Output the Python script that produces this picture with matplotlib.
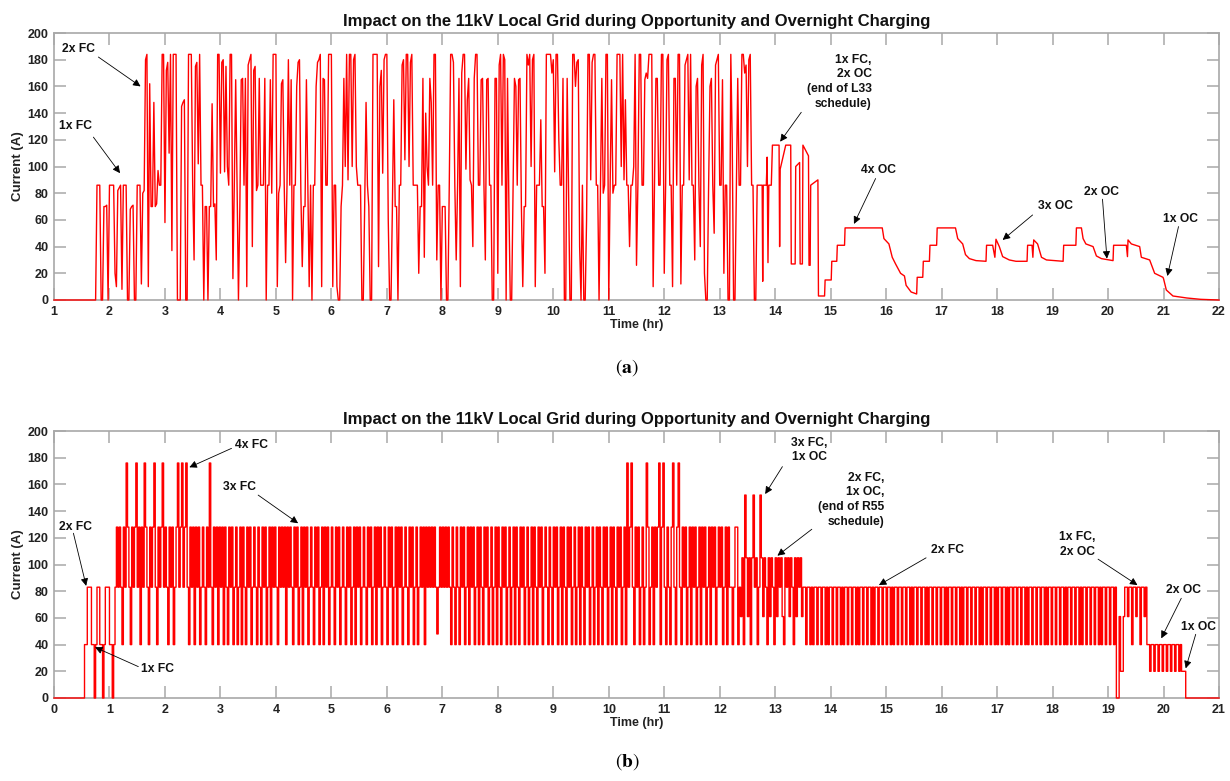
import matplotlib
matplotlib.use("Agg")
import matplotlib.pyplot as plt

plt.rcParams['font.family'] = ['Liberation Sans', 'DejaVu Sans']
plt.rcParams['mathtext.fontset'] = 'stix'

TITLE = "Impact on the 11kV Local Grid during Opportunity and Overnight Charging"
STEP = 0.025  # sampling interval (hr) of the read-off rows

# ---------------- Panel (a): L33 schedule, current (A) ----------------
top_start = [(1.0, 0)]
top_row_starts = [1.75, 2.75, 3.75, 4.75, 5.75, 6.75, 7.75, 8.75, 9.75, 10.75, 11.75, 12.75]
top_r0 = [0,86,86,86,0,0,70,70,71,0, 86,86,86,86,20,10,82,84,86,8, 86,86,86,0,0,68,70,71,0,0, 86,86,86,12,80,82,180,184,10,162]
top_r1 = [70,70,148,70,72,97,86,86,184,184, 58,172,178,110,184,37,184,184,184,0, 0,0,145,148,150,0,0,184,184,184, 86,30,175,178,102,184,86,86,0,70]
top_r2 = [70,0,70,70,147,70,72,30,184,184, 95,178,180,96,175,100,86,184,184,16, 86,165,86,0,70,165,166,86,166,10, 176,180,184,40,172,175,82,86,166,86]
top_r3 = [86,86,166,0,86,86,165,80,184,184, 184,10,80,86,162,165,86,28,86,180, 86,165,0,86,86,160,178,180,80,25, 70,70,165,86,10,86,0,86,86,160]
top_r4 = [178,180,184,10,166,165,86,86,184,184, 184,10,86,86,10,0,0,70,86,166, 100,184,90,184,184,100,180,184,100,86, 86,86,0,0,70,148,86,70,0,0]
top_r5 = [184,184,184,184,25,160,172,95,180,184, 184,60,0,0,70,150,70,70,0,86, 86,176,180,105,184,184,100,178,184,86, 86,86,86,20,70,70,166,32,140,100]
top_r6 = [86,166,148,86,184,184,30,86,86,0, 70,70,70,0,0,86,184,184,178,86, 30,86,166,10,170,184,184,98,150,166, 90,86,40,166,184,184,86,86,165,166]
top_r7 = [86,30,165,166,86,86,0,0,166,166, 20,176,184,86,184,180,0,166,70,0, 0,86,166,160,86,165,166,70,10,70, 70,184,176,184,100,180,184,10,86,86]
top_r8 = [86,135,70,70,20,184,184,184,184,170, 180,96,184,184,120,86,86,166,0,0, 166,86,0,0,184,184,160,178,180,40, 0,86,0,0,60,184,184,90,178,184]
top_r9 = [184,86,86,0,86,166,80,86,184,184, 0,86,165,80,86,86,184,184,184,100, 184,90,150,86,86,40,86,86,100,184, 26,86,184,184,86,86,165,170,166,184]
top_r10 = [184,184,10,86,166,166,86,86,184,184, 20,86,180,184,86,86,10,166,166,86, 184,184,12,86,86,176,180,184,90,184, 86,86,30,160,166,86,40,176,184,20]
top_r11 = [0,0,86,160,166,86,50,176,180,184, 86,86,165,20,86,86,0,0,184,120, 0,0,86,166,86,86,184,184,170,176, 100,180,184,86,86,0,0,86,86,86]
top_rows = [top_r0, top_r1, top_r2, top_r3, top_r4, top_r5, top_r6, top_r7,
            top_r8, top_r9, top_r10, top_r11]

tail_t = [13.75, 13.765, 13.775, 13.785, 13.84, 13.855, 13.87, 13.885, 13.93, 13.95,
          14.07, 14.08, 14.09, 14.19, 14.28, 14.29, 14.36, 14.37, 14.44, 14.45,
          14.49, 14.5, 14.6, 14.61, 14.63, 14.64, 14.77, 14.78, 14.89, 14.9,
          15.01, 15.02, 15.11, 15.12, 15.25, 15.26, 15.93, 15.96, 16.05, 16.11,
          16.17, 16.26, 16.33, 16.36, 16.45, 16.55, 16.56, 16.66, 16.67, 16.78,
          16.79, 16.91, 16.92, 17.25, 17.29, 17.38, 17.43, 17.5, 17.62, 17.8,
          17.81, 17.92, 17.96, 17.98, 18.04, 18.1, 18.22, 18.34, 18.54, 18.55,
          18.63, 18.645, 18.66, 18.73, 18.8, 18.89, 19.19, 19.2, 19.42, 19.43,
          19.52, 19.55, 19.6, 19.73, 19.79, 19.88, 20.09, 20.1, 20.33, 20.35,
          20.36, 20.42, 20.57, 20.6, 20.75, 20.84, 20.99, 21.0, 21.05, 21.17,
          21.42, 21.67, 22.0]
tail_v = [86, 86, 14, 86, 86, 107, 28, 86, 86, 116,
          116, 40, 98, 116, 116, 27, 27, 100, 103, 27,
          27, 116, 108, 26, 26, 86, 90, 3, 3, 15,
          15, 29, 29, 41, 41, 54, 54, 46, 42, 32,
          27, 20, 18, 11, 6, 4.5, 17, 17, 29, 29,
          41, 41, 54, 54, 46, 42, 34, 31, 29.5, 29,
          41, 41, 32, 45.5, 40, 32.5, 30, 29, 29, 41,
          41, 32, 45, 42, 32, 30, 29, 41, 41, 54,
          54, 46, 42, 40, 33, 31, 29.5, 41, 41, 32.5,
          45, 42, 40, 32, 30, 20, 17, 16, 7.5, 3,
          1.5, 0.5, 0]

# ---------------- Panel (b): R55 schedule, current (A) ----------------
bot_b0 = [0,0,0,0,0,0,0,0,0,0, 0,0,0,0,0,0,0,0,0,0, 0,0,40,40,83,83,83,40,40,0, 40,83,83,40,40,0,40,83,83,83]
bot_b1 = [40,40,0,40,83,128,83,128,83,40, 128,83,176,128,83,40,128,83,128,176, 83,128,40,128,83,176,128,83,40,128, 83,128,176,83,40,128,83,128,176,83]
bot_b2 = [128,83,40,128,83,128,40,83,128,176, 83,128,176,83,128,176,83,40,128,83, 128,40,128,83,128,40,83,128,83,40, 128,83,176,83,40,128,83,128,40,128]
bot_b3 = [83,128,40,128,83,40,128,83,128,40, 83,128,40,83,128,40,128,83,40,128, 83,128,40,83,128,83,40,128,83,40, 128,83,128,40,83,128,40,128,83,128]
bot_b4 = [83,40,128,83,128,83,128,40,128,83, 128,83,40,128,83,128,40,83,128,40, 128,83,128,40,83,128,83,40,128,83, 128,40,83,128,40,128,83,128,40,83]
bot_b5 = [128,83,40,128,83,128,40,83,128,83, 40,128,83,128,40,83,128,40,128,83, 128,40,83,128,83,40,128,83,128,40, 83,128,40,128,83,128,40,83,128,83]
bot_b6 = [40,128,83,128,40,83,128,40,128,83, 128,40,83,128,83,40,128,83,128,40, 83,128,40,83,128,83,128,40,128,83, 128,83,128,83,128,83,48,83,128,83]
bot_b7 = [128,83,128,83,128,83,40,128,83,40, 128,83,40,128,83,128,40,83,128,40, 128,83,128,40,83,128,40,128,83,40, 128,83,128,40,83,128,40,83,128,40]
bot_b8 = [128,83,40,128,83,128,40,83,128,40, 83,128,40,128,83,40,128,83,128,40, 83,128,40,83,128,40,128,83,40,128, 83,128,40,83,128,83,40,128,83,40]
bot_b9 = [128,83,128,40,83,128,40,128,83,40, 128,83,128,40,83,128,40,83,128,40, 128,83,40,128,83,128,40,83,128,40, 83,128,40,128,83,40,128,83,128,40]
bot_b10 = [83,128,40,128,83,40,128,83,128,40, 83,128,40,176,83,128,176,83,40,128, 83,128,40,83,128,40,83,176,128,40, 83,128,40,128,83,128,176,40,128,176]
bot_b11 = [83,40,128,83,40,128,176,83,40,128, 176,83,40,128,83,128,40,83,128,40, 128,83,128,40,83,128,40,128,83,128, 40,83,128,40,128,83,128,40,83,128]
bot_b12 = [83,128,40,83,128,40,128,83,83,40, 83,128,128,40,83,61,105,40,152,105, 61,105,40,105,152,83,105,40,83,152, 105,61,105,83,40,105,61,105,83,40]
bot_b13 = [105,61,105,83,105,61,40,105,83,105, 61,105,83,40,105,61,105,83,105,61, 83,83,40,83,83,40,83,40,83,83, 40,83,83,40,83,83,40,83,40,83]
bot_b14 = [83,40,83,83,40,83,83,40,83,40, 83,83,40,83,83,40,83,83,40,83, 40,83,83,40,83,83,40,83,83,40, 83,40,83,83,40,83,83,40,83,83]
bot_b15 = [40,83,83,40,83,40,83,83,40,83, 83,40,83,83,40,83,83,40,83,40, 83,83,40,83,83,40,83,83,40,83, 40,83,83,40,83,83,40,83,83,40]
bot_b16 = [83,83,40,83,40,83,83,40,83,83, 40,83,83,40,83,40,83,83,40,83, 83,40,83,83,40,83,83,40,83,40, 83,83,40,83,83,40,83,83,40,83]
bot_b17 = [40,83,83,40,83,83,40,83,40,83, 83,40,83,83,40,83,83,40,83,83, 40,83,40,83,83,40,83,83,40,83, 83,40,83,83,40,83,40,83,83,40]
bot_b18 = [83,83,40,83,83,40,83,83,40,83, 40,83,83,40,83,83,40,83,83,40, 83,40,83,83,40,83,83,40,83,83, 40,83,83,40,83,40,83,83,40,83]
bot_b19 = [83,40,83,83,40,83,0,0,61,20, 20,61,83,83,61,83,83,40,83,83, 61,83,83,40,83,83,61,83,40,40, 20,40,40,20,40,40,20,40,40,20]
bot_b20 = [40,40,20,40,40,20,40,40,20,40, 40,20,40,20,20,20,0,0,0,0, 0,0,0,0,0,0,0,0,0,0, 0,0,0,0,0,0,0,0,0,0]
bot_rows = [bot_b0, bot_b1, bot_b2, bot_b3, bot_b4, bot_b5, bot_b6, bot_b7, bot_b8, bot_b9,
            bot_b10, bot_b11, bot_b12, bot_b13, bot_b14, bot_b15, bot_b16, bot_b17, bot_b18,
            bot_b19, bot_b20]
bot_row_starts = list(range(0, 21))
bot_end = (21.0, 0)

top_xticks = list(range(1, 23))
bot_xticks = list(range(0, 22))
yticks = list(range(0, 201, 20))

# ---------------- assemble series ----------------
t_top = [p[0] for p in top_start]
v_top = [p[1] for p in top_start]
for s, row in zip(top_row_starts, top_rows):
    t_top += [s + i * STEP for i in range(len(row))]
    v_top += row
t_top += tail_t
v_top += tail_v

t_bot, v_bot = [], []
for s, row in zip(bot_row_starts, bot_rows):
    t_bot += [s + i * STEP for i in range(len(row))]
    v_bot += row
t_bot.append(bot_end[0])
v_bot.append(bot_end[1])

# ---------------- figure ----------------
W, H = 1230, 781
fig = plt.figure(figsize=(W / 100, H / 100), dpi=100)
ax1 = fig.add_axes([54 / W, 1 - 300 / H, 1165 / W, 267 / H])
ax2 = fig.add_axes([54 / W, 1 - 698 / H, 1165 / W, 267 / H])

RED = '#ff0000'
ax1.plot(t_top, v_top, color=RED, lw=1.0, zorder=3, clip_on=False)
ax2.step(t_bot, v_bot, where='post', color=RED, lw=1.0, zorder=3, clip_on=False)

GRAY = '#a8a8a8'
for ax, xt in ((ax1, top_xticks), (ax2, bot_xticks)):
    ax.set_xlim(xt[0], xt[-1])
    ax.set_ylim(0, 200)
    ax.set_xticks(xt)
    ax.set_yticks(yticks)
    for sp in ax.spines.values():
        sp.set_color(GRAY)
        sp.set_linewidth(1.2)
    ax.tick_params(direction='in', length=8.5, width=1.1, color=GRAY,
                   top=True, right=True, labelsize=9, labelcolor='#222222', pad=4)
    for lab in ax.get_xticklabels() + ax.get_yticklabels():
        lab.set_fontweight('bold')
    ax.set_title(TITLE, fontsize=12, fontweight='bold', pad=5, color='#111111')
    ax.set_xlabel('Time (hr)', fontsize=9, fontweight='bold', color='#222222')
    ax.set_ylabel('Current (A)', fontsize=9.5, fontweight='bold', color='#222222')
    ax.xaxis.set_label_coords(0.5, -0.07)
    ax.yaxis.set_label_coords(-0.026, 0.5)

ANN = dict(fontsize=8.7, fontweight='bold', color='#111111')
ARR = dict(arrowstyle='-|>', color='black', lw=0.6, mutation_scale=11, shrinkA=0, shrinkB=0)

def note(ax, text, txy, tail, tip, ha='center', ma='center'):
    ax.text(txy[0], txy[1], text, ha=ha, va='center', multialignment=ma,
            linespacing=1.3, **ANN)
    ax.annotate('', xy=tip, xytext=tail, arrowprops=ARR)

# panel (a) annotations
note(ax1, '2x FC', (1.45, 188), (1.80, 182), (2.56, 160))
note(ax1, '1x FC', (1.38, 130), (1.71, 122), (2.19, 95))
note(ax1, '1x FC,\n2x OC\n(end of L33\nschedule)', (15.74, 163.5), (14.47, 140.6), (14.09, 118.6),
     ha='right', ma='right')
note(ax1, '4x OC', (15.86, 97.5), (15.81, 91), (15.42, 57))
note(ax1, '3x OC', (19.05, 70.5), (18.64, 63.7), (18.1, 45))
note(ax1, '2x OC', (19.88, 81), (19.9, 75.5), (19.98, 31))
note(ax1, '1x OC', (21.3, 60.5), (21.27, 55), (21.07, 18))

# panel (b) annotations
note(ax2, '2x FC', (0.38, 128.3), (0.35, 123.4), (0.58, 84))
note(ax2, '1x FC', (1.86, 21.5), (1.52, 23.5), (0.74, 38))
note(ax2, '4x FC', (3.56, 189.5), (3.2, 187), (2.44, 172.8))
note(ax2, '3x FC', (3.34, 158.3), (3.68, 152), (4.4, 130.9))
note(ax2, '3x FC,\n1x OC', (13.62, 185.8), (13.13, 173.3), (12.82, 152.8))
note(ax2, '2x FC,\n1x OC,\n(end of R55\nschedule)', (14.96, 148.5), (13.66, 126.4), (13.04, 106.6),
     ha='right', ma='right')
note(ax2, '2x FC', (16.1, 110.9), (15.72, 105), (14.87, 84.6))
note(ax2, '1x FC,\n2x OC', (18.45, 114.8), (18.82, 104), (19.53, 84.6))
note(ax2, '2x OC', (20.36, 80.9), (20.32, 74.7), (19.96, 44.7))
note(ax2, '1x OC', (20.63, 53), (20.58, 47.7), (20.4, 22.2))

fig.text(627 / W, 1 - 368 / H, r'$(\mathbf{a})$', ha='center', va='center', fontsize=14)
fig.text(627 / W, 1 - 762 / H, r'$(\mathbf{b})$', ha='center', va='center', fontsize=14)

fig.savefig('out.png', dpi=100)
